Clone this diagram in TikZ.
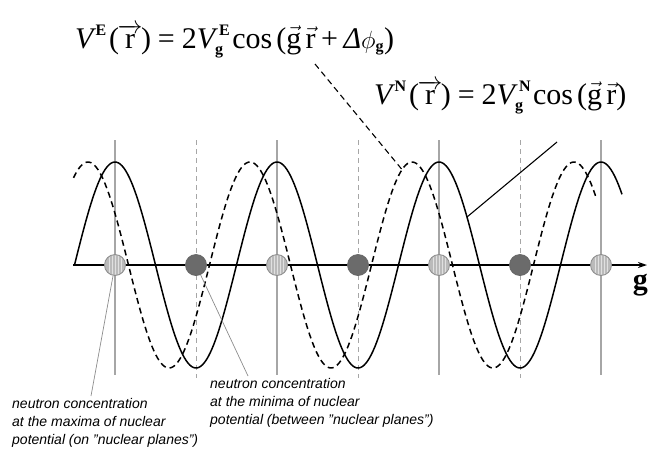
\documentclass[tikz,border=0pt]{standalone}
\usepackage{amsmath}
\usepackage{fontspec}
\setmainfont{Liberation Serif}
\setsansfont{Liberation Sans}
\DeclareMathSizes{30}{30}{16}{12}
\usetikzlibrary{arrows.meta,calc}
\tikzset{
  formula/.style={font=\fontsize{30}{32}\selectfont, inner sep=0},
  note/.style={font=\fontsize{14}{18}\selectfont\sffamily\itshape, align=left, inner sep=0, anchor=north west},
  vsolid/.style={draw=black!35, line width=1.1pt},
  vdash/.style={draw=black!35, line width=0.9pt, dash pattern=on 5pt off 4pt},
  curveN/.style={draw=black, line width=1.5pt},
  curveE/.style={draw=black, line width=1.5pt, dash pattern=on 6pt off 4pt},
  nucA/.style={circle, draw=black!45, fill=black!27, line width=0.8pt, minimum size=21pt, inner sep=0},
  nucB/.style={circle, draw=black!60, fill=black!58, line width=0.8pt, minimum size=21pt, inner sep=0},
  lead/.style={draw=black!45, line width=0.7pt},
}
\newcommand{\vecr}{\hspace{2.5pt}\text{(}\hspace{-1.5pt}\overrightarrow{\text{r}}\hspace{-1.5pt}\text{)}}
\newcommand{\supsp}[1]{^{\hspace{2pt}\textbf{#1}}}
\newcommand{\subsup}[1]{_{\textbf{g}}^{\hspace{4pt}\textbf{#1}}\hspace{2pt}}
\begin{document}
\begin{tikzpicture}[x=1pt,y=-1pt]
\useasboundingbox (0,0) rectangle (648,451);
% vertical guide lines
\foreach \xx in {115,277,439,601} \draw[vsolid] (\xx,140) -- (\xx,375);
\foreach \xx in {196,358,520} \draw[vdash] (\xx,140) -- (\xx,378);
% potentials
\draw[curveE] plot[domain=73.5:596, samples=300] (\x,{265-103*cos((\x-88)/162*360)});
\draw[curveN] plot[domain=74.5:622, samples=300] (\x,{265-103*cos((\x-115)/162*360)});
% axis
\coordinate (o) at (73,265);
\coordinate (e) at (647,265);
\draw[line width=1.4pt, -{Stealth[length=9pt,width=6pt]}] (o) -- (e);
\node[font=\fontsize{30}{32}\selectfont\bfseries, inner sep=0, anchor=base east] (g) at (648,289) {g};
% neutron positions
\node[nucA] (c1) at (115,265) {};
\node[nucB] (c2) at (196,265) {};
\node[nucA] (c3) at (277,265) {};
\node[nucB] (c4) at (358,265) {};
\node[nucA] (c5) at (439,265) {};
\node[nucB] (c6) at (520,265) {};
\node[nucA] (c7) at (601,265) {};
\foreach \c in {c1,c3,c5,c7} {
  \begin{scope}
    \clip (\c) circle (9.6pt);
    \foreach \d in {-6,-3,0,3,6} \draw[black!12, line width=0.6pt] ($(\c)+(\d,-12)$) -- ++(0,24);
  \end{scope}
}
% formulas
\node[formula, anchor=base west] (fE) at (75,48) {$\textit{V}\supsp{E}\vecr\mathrel{\text{=}}\text{2}\textit{V}\subsup{E}\text{cos}\,\text{(}\vec{\text{g}}\,\vec{\text{r}}\mathbin{\text{+}}\textit{Δ}\phi_{\textbf{g}}\text{)}$};
\node[formula, anchor=base west] (fN) at (374,104) {$\textit{V}\supsp{N}\vecr\mathrel{\text{=}}\text{2}\textit{V}\subsup{N}\text{cos}\,\text{(}\vec{\text{g}}\,\vec{\text{r}}\text{)}$};
% formula leaders
\coordinate (fa) at (315,64);
\coordinate (fb) at (404,172);
\draw[line width=1.1pt, dash pattern=on 6pt off 4pt] (fa) -- (fb);
\coordinate (na) at (557,142);
\coordinate (nb) at (467,217);
\draw[line width=1.1pt] (na) -- (nb);
% notes
\node[note] (t1) at (12,398) {neutron concentration\\at the maxima of nuclear\\potential (on "nuclear planes")};
\node[note] (t2) at (210,378) {neutron concentration\\at the minima of nuclear\\potential (between "nuclear planes")};
\coordinate (l1) at (91,396);
\coordinate (l2) at (248,376);
\draw[lead] (c1) -- (l1);
\draw[lead] (c2) -- (l2);
\end{tikzpicture}
\end{document}
